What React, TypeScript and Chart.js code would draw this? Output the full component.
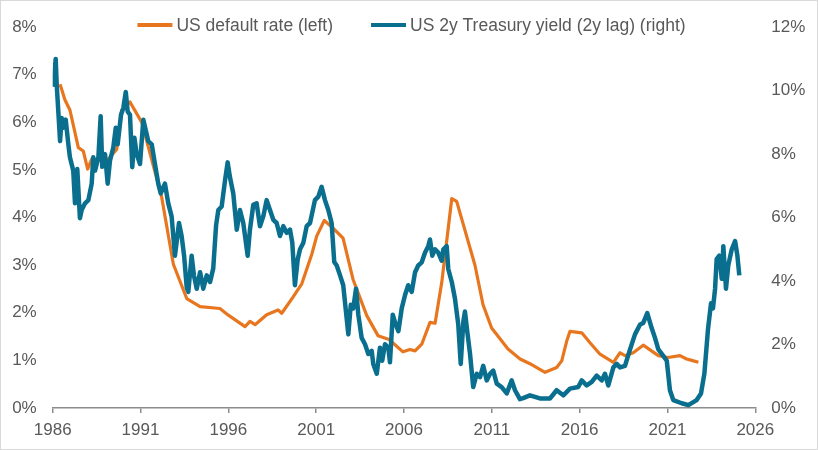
import React, { useEffect, useRef } from "react";
import { Chart, registerables } from "chart.js";

Chart.register(...registerables);

const xTickYears = [1986, 1991, 1996, 2001, 2006, 2011, 2016, 2021, 2026];
const leftTicks = [0, 1, 2, 3, 4, 5, 6, 7, 8];
const rightTicks = [0, 2, 4, 6, 8, 10, 12];
const seriesLabels = ["US default rate (left)", "US 2y Treasury yield (2y lag) (right)"];

const defaultYears = [
  1986.42, 1986.7, 1986.98, 1987.46, 1987.74, 1987.99, 1988.22, 1989.07, 1989.64, 1989.93,
  1990.4, 1991.07, 1992.2, 1992.87, 1993.63, 1994.39, 1995.52, 1996.0, 1996.95, 1997.23,
  1997.52, 1998.18, 1998.83, 1999.04, 1999.68, 2000.18, 2000.75, 2001.03, 2001.46, 2001.96,
  2002.53, 2003.1, 2003.88, 2004.52, 2005.15, 2005.94, 2006.34, 2006.63, 2007.01, 2007.48,
  2007.77, 2008.15, 2008.72, 2009.0, 2010.04, 2010.5, 2010.99, 2011.92, 2012.61, 2013.17,
  2014.03, 2014.69, 2014.98, 2015.26, 2015.45, 2016.12, 2016.59, 2017.16, 2017.92, 2018.3,
  2018.59, 2019.05, 2019.62, 2020.48, 2021.03, 2021.71, 2022.09, 2022.38, 2022.76,
];
const defaultRate = [
  6.8, 6.47, 6.26, 5.47, 5.4, 5.02, 5.23, 5.19, 5.43, 6.26,
  6.43, 6.0, 4.44, 3.02, 2.3, 2.13, 2.09, 1.95, 1.71, 1.82,
  1.75, 1.96, 2.06, 1.99, 2.33, 2.61, 3.23, 3.61, 3.94, 3.78,
  3.57, 2.7, 1.94, 1.52, 1.44, 1.18, 1.23, 1.2, 1.34, 1.8,
  1.78, 2.64, 4.4, 4.34, 3.0, 2.17, 1.68, 1.24, 1.03, 0.93,
  0.75, 0.85, 0.99, 1.4, 1.61, 1.58, 1.37, 1.13, 0.96, 1.16,
  1.1, 1.16, 1.32, 1.1, 1.06, 1.1, 1.03, 1.0, 0.96,
];

const yieldYears = [
  1986.03, 1986.17, 1986.23, 1986.32, 1986.42, 1986.51, 1986.6, 1986.74, 1986.89, 1986.98,
  1987.17, 1987.27, 1987.4, 1987.55, 1987.65, 1987.84, 1988.03, 1988.22, 1988.31, 1988.41,
  1988.6, 1988.73, 1988.82, 1988.98, 1989.13, 1989.26, 1989.45, 1989.59, 1989.7, 1989.89,
  1990.02, 1990.16, 1990.27, 1990.4, 1990.53, 1990.65, 1990.78, 1990.97, 1991.16, 1991.44,
  1991.64, 1991.82, 1992.01, 1992.15, 1992.39, 1992.58, 1992.77, 1992.96, 1993.19, 1993.34,
  1993.48, 1993.63, 1993.72, 1993.91, 1994.04, 1994.2, 1994.39, 1994.57, 1994.77, 1994.96,
  1995.14, 1995.3, 1995.43, 1995.62, 1995.81, 1995.96, 1996.09, 1996.28, 1996.48, 1996.66,
  1996.85, 1997.1, 1997.23, 1997.42, 1997.61, 1997.8, 1997.99, 1998.18, 1998.37, 1998.56,
  1998.75, 1998.94, 1999.13, 1999.32, 1999.51, 1999.64, 1999.79, 1999.95, 2000.08, 2000.27,
  2000.46, 2000.65, 2000.93, 2001.12, 2001.31, 2001.5, 2001.69, 2001.88, 2002.03, 2002.17,
  2002.36, 2002.54, 2002.83, 2002.97, 2003.11, 2003.27, 2003.4, 2003.59, 2003.78, 2003.97,
  2004.16, 2004.25, 2004.45, 2004.63, 2004.76, 2004.92, 2005.11, 2005.2, 2005.36, 2005.53,
  2005.68, 2005.87, 2006.06, 2006.24, 2006.44, 2006.63, 2006.81, 2007.01, 2007.2, 2007.38,
  2007.48, 2007.61, 2007.77, 2007.95, 2008.15, 2008.24, 2008.43, 2008.52, 2008.72, 2008.9,
  2009.09, 2009.23, 2009.38, 2009.47, 2009.6, 2009.76, 2009.94, 2010.14, 2010.33, 2010.51,
  2010.71, 2010.9, 2011.08, 2011.28, 2011.56, 2011.85, 2012.13, 2012.32, 2012.6, 2012.78,
  2013.17, 2013.74, 2014.31, 2014.69, 2015.07, 2015.45, 2015.92, 2016.12, 2016.4, 2016.69,
  2016.97, 2017.26, 2017.44, 2017.63, 2017.92, 2018.11, 2018.3, 2018.58, 2018.87, 2019.15,
  2019.44, 2019.62, 2019.85, 2020.1, 2020.29, 2020.48, 2020.76, 2020.96, 2021.14, 2021.33,
  2021.81, 2022.19, 2022.66, 2022.91, 2023.1, 2023.31, 2023.48, 2023.59, 2023.71, 2023.8,
  2023.95, 2024.09, 2024.18, 2024.33, 2024.46, 2024.66, 2024.85, 2024.98, 2025.09,
];
const yieldRate = [
  10.12, 11.0, 10.17, 9.34, 8.41, 9.14, 8.83, 9.09, 8.31, 7.9,
  7.48, 6.45, 7.53, 5.98, 6.24, 6.45, 6.55, 7.07, 7.9, 7.48,
  7.9, 9.19, 7.6, 8.0, 7.07, 7.79, 8.21, 8.83, 8.31, 9.24,
  9.45, 9.96, 9.34, 9.24, 7.59, 8.52, 8.0, 7.69, 9.08, 8.41,
  8.31, 7.69, 7.07, 6.76, 7.07, 6.45, 6.04, 4.8, 5.83, 5.42,
  4.8, 3.8, 3.66, 4.8, 4.18, 3.76, 4.28, 3.76, 4.18, 3.97,
  4.4, 5.75, 6.24, 6.35, 7.17, 7.74, 7.28, 6.76, 5.62, 6.24,
  5.83, 4.8, 5.62, 6.4, 6.45, 5.73, 6.04, 6.55, 6.24, 5.93,
  5.83, 5.42, 5.73, 5.52, 5.62, 5.21, 3.87, 4.69, 5.0, 5.21,
  5.73, 5.83, 6.55, 6.66, 6.97, 6.55, 6.24, 5.83, 4.6, 4.49,
  4.18, 3.87, 2.32, 3.25, 3.14, 3.76, 2.94, 2.21, 2.01, 1.7,
  1.8, 1.39, 1.08, 1.9, 1.49, 2.01, 1.9, 1.44, 2.94, 2.63,
  2.42, 3.14, 3.56, 3.87, 3.66, 4.28, 4.49, 4.59, 4.9, 5.1,
  5.31, 4.8, 5.0, 4.9, 4.64, 5.0, 5.1, 4.38, 3.97, 3.45,
  2.63, 1.39, 2.73, 3.04, 2.42, 1.7, 0.66, 1.08, 0.97, 1.33,
  0.87, 1.08, 1.18, 0.77, 0.66, 0.46, 0.87, 0.56, 0.28, 0.31,
  0.4, 0.3, 0.3, 0.56, 0.4, 0.61, 0.66, 0.87, 0.71, 0.82,
  1.02, 0.87, 1.08, 0.71, 1.28, 1.39, 1.28, 1.33, 1.85, 2.32,
  2.63, 2.68, 2.99, 2.52, 2.21, 1.85, 1.64, 1.49, 0.56, 0.25,
  0.15, 0.09, 0.25, 0.46, 1.08, 2.5, 3.3, 3.14, 3.76, 4.69,
  4.8, 4.07, 5.1, 3.76, 4.49, 5.0, 5.26, 4.8, 4.18,
];

const ORANGE = "#E8761E";
const TEAL = "#0A6F8E";
const TEXT = "#595959";
const AXIS = "#8c8c8c";
const FONT_FAMILY = '"Liberation Sans", Arial, Helvetica, sans-serif';

const topLegend = {
  id: "topLegend",
  afterDraw(chart: any) {
    const ctx = chart.ctx;
    ctx.save();
    ctx.font = `17.5px ${FONT_FAMILY}`;
    ctx.textBaseline = "middle";
    ctx.textAlign = "left";
    const swatch = 35;
    const gap = 4;
    const itemGap = 38;
    const items = chart.data.datasets.map((ds: any) => ({
      label: ds.label,
      color: ds.borderColor,
      w: swatch + gap + ctx.measureText(ds.label).width,
    }));
    const total = items.reduce((a: number, it: any) => a + it.w, 0) + itemGap * (items.length - 1);
    let x = chart.width / 2 + 2.5 - total / 2;
    const y = 24;
    items.forEach((it: any) => {
      ctx.strokeStyle = it.color;
      ctx.lineWidth = 4;
      ctx.beginPath();
      ctx.moveTo(x, y);
      ctx.lineTo(x + swatch, y);
      ctx.stroke();
      ctx.fillStyle = TEXT;
      ctx.fillText(it.label, x + swatch + gap, y + 1);
      x += it.w + itemGap;
    });
    ctx.restore();
  },
};

export default function App() {
  const canvasRef = useRef<HTMLCanvasElement | null>(null);

  useEffect(() => {
    document.body.style.margin = "0";
    const canvas = canvasRef.current;
    if (!canvas) return;
    const font = { family: FONT_FAMILY, size: 17 };
    const chart = new Chart(canvas, {
      type: "line",
      data: {
        datasets: [
          {
            label: seriesLabels[0],
            data: defaultYears.map((x, i) => ({ x, y: defaultRate[i] })),
            borderColor: ORANGE,
            backgroundColor: ORANGE,
            borderWidth: 3.2,
            pointRadius: 0,
            tension: 0,
            yAxisID: "yL",
            order: 1,
            borderJoinStyle: "round",
          },
          {
            label: seriesLabels[1],
            data: yieldYears.map((x, i) => ({ x, y: yieldRate[i] })),
            borderColor: TEAL,
            backgroundColor: TEAL,
            borderWidth: 4.5,
            pointRadius: 0,
            tension: 0,
            yAxisID: "yR",
            order: 0,
            borderJoinStyle: "round",
          },
        ],
      },
      options: {
        animation: false,
        responsive: true,
        maintainAspectRatio: false,
        layout: { padding: { top: 20, left: 0, right: 0, bottom: 0 } },
        plugins: {
          legend: { display: false },
          tooltip: { enabled: false },
        },
        scales: {
          x: {
            type: "linear",
            min: 1986,
            max: 2026,
            afterBuildTicks: (s: any) => {
              s.ticks = xTickYears.map((v) => ({ value: v }));
            },
            afterFit: (s: any) => {
              s.height = 41;
            },
            ticks: {
              callback: (v: any) => String(v),
              font,
              color: TEXT,
              padding: 7,
              maxRotation: 0,
              autoSkip: false,
            },
            grid: {
              display: true,
              drawOnChartArea: false,
              drawTicks: true,
              tickLength: 5,
              color: AXIS,
              lineWidth: 1.5,
            },
            border: { display: true, color: AXIS, width: 1.5 },
          },
          yL: {
            type: "linear",
            position: "left",
            min: 0,
            max: 8,
            afterBuildTicks: (s: any) => {
              s.ticks = leftTicks.map((v) => ({ value: v }));
            },
            afterFit: (s: any) => {
              s.width = 51.7;
            },
            ticks: {
              callback: (v: any) => `${v}%`,
              font,
              color: TEXT,
              padding: 16,
            },
            grid: { display: false, drawTicks: false },
            border: { display: false },
          },
          yR: {
            type: "linear",
            position: "right",
            min: 0,
            max: 12,
            afterBuildTicks: (s: any) => {
              s.ticks = rightTicks.map((v) => ({ value: v }));
            },
            afterFit: (s: any) => {
              s.width = 61.7;
            },
            ticks: {
              callback: (v: any) => `${v}%`,
              font,
              color: TEXT,
              padding: 16,
            },
            grid: { display: false, drawTicks: false },
            border: { display: false },
          },
        },
      },
      plugins: [topLegend],
    } as any);
    return () => chart.destroy();
  }, []);

  return (
    <div
      style={{
        position: "relative",
        width: 816,
        height: 448,
        border: "1px solid #d9d9d9",
        background: "#ffffff",
      }}
    >
      <canvas ref={canvasRef} />
    </div>
  );
}
